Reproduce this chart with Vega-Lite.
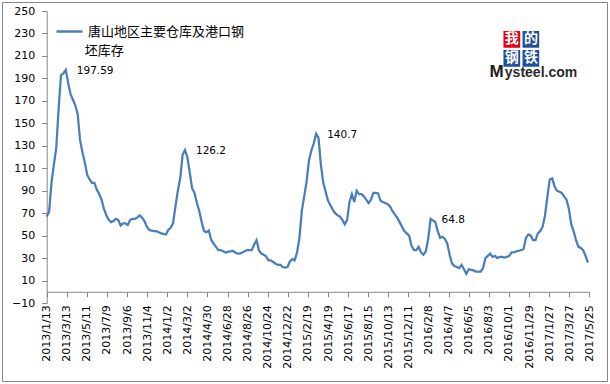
{
  "$schema": "https://vega.github.io/schema/vega-lite/v6.json",
  "width": 605,
  "height": 379,
  "autosize": "none",
  "padding": 2,
  "background": "white",
  "config": {
    "view": {"stroke": "#868686", "strokeWidth": 1},
    "axis": {"labelOverlap": false}
  },
  "layer": [
    {
      "data": {"values": [
        {"date":"2013/1/13","value":67},{"date":"2013/1/20","value":71},{"date":"2013/1/27","value":97},{"date":"2013/2/3","value":113},{"date":"2013/2/10","value":128},{"date":"2013/2/17","value":163},{"date":"2013/2/24","value":193},{"date":"2013/3/3","value":194.5},{"date":"2013/3/10","value":197.59},{"date":"2013/3/17","value":186},{"date":"2013/3/24","value":176},{"date":"2013/3/31","value":171},{"date":"2013/4/7","value":166},{"date":"2013/4/14","value":158},{"date":"2013/4/21","value":135},{"date":"2013/4/28","value":124},{"date":"2013/5/5","value":115},{"date":"2013/5/12","value":104},{"date":"2013/5/19","value":100},{"date":"2013/5/26","value":97},{"date":"2013/6/2","value":97},{"date":"2013/6/9","value":91},{"date":"2013/6/16","value":87},{"date":"2013/6/23","value":82},{"date":"2013/6/30","value":74},{"date":"2013/7/7","value":68},{"date":"2013/7/14","value":64},{"date":"2013/7/21","value":62},{"date":"2013/7/28","value":63},{"date":"2013/8/4","value":65},{"date":"2013/8/11","value":64},{"date":"2013/8/18","value":59},{"date":"2013/8/25","value":61},{"date":"2013/9/1","value":61},{"date":"2013/9/8","value":59.5},{"date":"2013/9/15","value":64},{"date":"2013/9/22","value":65},{"date":"2013/9/29","value":65},{"date":"2013/10/6","value":66},{"date":"2013/10/13","value":68},{"date":"2013/10/20","value":66},{"date":"2013/10/27","value":63},{"date":"2013/11/3","value":58},{"date":"2013/11/10","value":55},{"date":"2013/11/17","value":54.5},{"date":"2013/11/24","value":54},{"date":"2013/12/1","value":54},{"date":"2013/12/8","value":53},{"date":"2013/12/15","value":52},{"date":"2013/12/22","value":51.5},{"date":"2013/12/29","value":51},
        {"date":"2014/1/5","value":55},{"date":"2014/1/12","value":57},{"date":"2014/1/19","value":61},{"date":"2014/1/26","value":76},{"date":"2014/2/2","value":90},{"date":"2014/2/9","value":101},{"date":"2014/2/16","value":122},{"date":"2014/2/23","value":126.2},{"date":"2014/3/2","value":120},{"date":"2014/3/9","value":106},{"date":"2014/3/16","value":92},{"date":"2014/3/23","value":88},{"date":"2014/3/30","value":79},{"date":"2014/4/6","value":72},{"date":"2014/4/13","value":62},{"date":"2014/4/20","value":54},{"date":"2014/4/27","value":53},{"date":"2014/5/4","value":54.5},{"date":"2014/5/11","value":46},{"date":"2014/5/18","value":43},{"date":"2014/5/25","value":40},{"date":"2014/6/1","value":37},{"date":"2014/6/8","value":37},{"date":"2014/6/15","value":36},{"date":"2014/6/22","value":35},{"date":"2014/6/29","value":35.5},{"date":"2014/7/6","value":36},{"date":"2014/7/13","value":36.5},{"date":"2014/7/20","value":35},{"date":"2014/7/27","value":34},{"date":"2014/8/3","value":34},{"date":"2014/8/10","value":35},{"date":"2014/8/17","value":36},{"date":"2014/8/24","value":37},{"date":"2014/8/31","value":37},{"date":"2014/9/7","value":37},{"date":"2014/9/14","value":42},{"date":"2014/9/21","value":46},{"date":"2014/9/28","value":37},{"date":"2014/10/5","value":34},{"date":"2014/10/12","value":33},{"date":"2014/10/19","value":31.5},{"date":"2014/10/26","value":28},{"date":"2014/11/2","value":28},{"date":"2014/11/9","value":26.5},{"date":"2014/11/16","value":25},{"date":"2014/11/23","value":24},{"date":"2014/11/30","value":24},{"date":"2014/12/7","value":22},{"date":"2014/12/14","value":21.5},{"date":"2014/12/21","value":22},{"date":"2014/12/28","value":27},
        {"date":"2015/1/4","value":29},{"date":"2015/1/11","value":28},{"date":"2015/1/18","value":35},{"date":"2015/1/25","value":48},{"date":"2015/2/1","value":72},{"date":"2015/2/8","value":85},{"date":"2015/2/15","value":98},{"date":"2015/2/22","value":117},{"date":"2015/3/1","value":126},{"date":"2015/3/8","value":132},{"date":"2015/3/15","value":140.7},{"date":"2015/3/22","value":137},{"date":"2015/3/29","value":113},{"date":"2015/4/5","value":97},{"date":"2015/4/12","value":89},{"date":"2015/4/19","value":81},{"date":"2015/4/26","value":77},{"date":"2015/5/3","value":73},{"date":"2015/5/10","value":70},{"date":"2015/5/17","value":68},{"date":"2015/5/24","value":67},{"date":"2015/5/31","value":64},{"date":"2015/6/7","value":60},{"date":"2015/6/14","value":64},{"date":"2015/6/21","value":80},{"date":"2015/6/28","value":87},{"date":"2015/7/5","value":80},{"date":"2015/7/12","value":90},{"date":"2015/7/19","value":87},{"date":"2015/7/26","value":87},{"date":"2015/8/2","value":85},{"date":"2015/8/9","value":82},{"date":"2015/8/16","value":79},{"date":"2015/8/23","value":82},{"date":"2015/8/30","value":88},{"date":"2015/9/6","value":88},{"date":"2015/9/13","value":87.5},{"date":"2015/9/20","value":81},{"date":"2015/9/27","value":80},{"date":"2015/10/4","value":79},{"date":"2015/10/11","value":78},{"date":"2015/10/18","value":76},{"date":"2015/10/25","value":72},{"date":"2015/11/1","value":69},{"date":"2015/11/8","value":66},{"date":"2015/11/15","value":62},{"date":"2015/11/22","value":58},{"date":"2015/11/29","value":54},{"date":"2015/12/6","value":52},{"date":"2015/12/13","value":50},{"date":"2015/12/20","value":41},{"date":"2015/12/27","value":37},
        {"date":"2016/1/3","value":37},{"date":"2016/1/10","value":40},{"date":"2016/1/17","value":35},{"date":"2016/1/24","value":33},{"date":"2016/1/31","value":36},{"date":"2016/2/7","value":47},{"date":"2016/2/14","value":64.8},{"date":"2016/2/21","value":63.5},{"date":"2016/2/28","value":62},{"date":"2016/3/6","value":54},{"date":"2016/3/13","value":48},{"date":"2016/3/20","value":49},{"date":"2016/3/27","value":47},{"date":"2016/4/3","value":43},{"date":"2016/4/10","value":33},{"date":"2016/4/17","value":25},{"date":"2016/4/24","value":23},{"date":"2016/5/1","value":22},{"date":"2016/5/8","value":21},{"date":"2016/5/15","value":24},{"date":"2016/5/22","value":20},{"date":"2016/5/29","value":16},{"date":"2016/6/5","value":20},{"date":"2016/6/12","value":19.5},{"date":"2016/6/19","value":19},{"date":"2016/6/26","value":18},{"date":"2016/7/3","value":18},{"date":"2016/7/10","value":18},{"date":"2016/7/17","value":21},{"date":"2016/7/24","value":30},{"date":"2016/7/31","value":32},{"date":"2016/8/7","value":34},{"date":"2016/8/14","value":31},{"date":"2016/8/21","value":32},{"date":"2016/8/28","value":30},{"date":"2016/9/4","value":31},{"date":"2016/9/11","value":31},{"date":"2016/9/18","value":30.5},{"date":"2016/9/25","value":31},{"date":"2016/10/2","value":32},{"date":"2016/10/9","value":35},{"date":"2016/10/16","value":35},{"date":"2016/10/23","value":36},{"date":"2016/10/30","value":36.5},{"date":"2016/11/6","value":37},{"date":"2016/11/13","value":38},{"date":"2016/11/20","value":48},{"date":"2016/11/27","value":51},{"date":"2016/12/4","value":50},{"date":"2016/12/11","value":46},{"date":"2016/12/18","value":46},{"date":"2016/12/25","value":52},
        {"date":"2017/1/1","value":54},{"date":"2017/1/8","value":58},{"date":"2017/1/15","value":68},{"date":"2017/1/22","value":85},{"date":"2017/1/29","value":100},{"date":"2017/2/5","value":101},{"date":"2017/2/12","value":94},{"date":"2017/2/19","value":90},{"date":"2017/2/26","value":89},{"date":"2017/3/5","value":88},{"date":"2017/3/12","value":85},{"date":"2017/3/19","value":82},{"date":"2017/3/26","value":74},{"date":"2017/4/2","value":60},{"date":"2017/4/9","value":54},{"date":"2017/4/16","value":46},{"date":"2017/4/23","value":40},{"date":"2017/4/30","value":39},{"date":"2017/5/7","value":37},{"date":"2017/5/14","value":32},{"date":"2017/5/21","value":26}
      ]},
      "mark": {"type": "line", "strokeWidth": 2.25},
      "encoding": {
        "x": {
          "field": "date", "type": "temporal",
          "scale": {"type": "time", "domain": [{"year":2013,"month":1,"date":13},{"year":2017,"month":5,"date":25}], "range": [44.7, 587.3]},
          "axis": {
            "title": null, "grid": false, "offset": -89.2, "tickCount": 40,
            "values": [{"year":2013,"month":1,"date":13},{"year":2013,"month":3,"date":13},{"year":2013,"month":5,"date":11},{"year":2013,"month":7,"date":9},{"year":2013,"month":9,"date":6},{"year":2013,"month":11,"date":4},{"year":2014,"month":1,"date":2},{"year":2014,"month":3,"date":2},{"year":2014,"month":4,"date":30},{"year":2014,"month":6,"date":28},{"year":2014,"month":8,"date":26},{"year":2014,"month":10,"date":24},{"year":2014,"month":12,"date":22},{"year":2015,"month":2,"date":19},{"year":2015,"month":4,"date":19},{"year":2015,"month":6,"date":17},{"year":2015,"month":8,"date":15},{"year":2015,"month":10,"date":13},{"year":2015,"month":12,"date":11},{"year":2016,"month":2,"date":8},{"year":2016,"month":4,"date":7},{"year":2016,"month":6,"date":5},{"year":2016,"month":8,"date":3},{"year":2016,"month":10,"date":1},{"year":2016,"month":11,"date":29},{"year":2017,"month":1,"date":27},{"year":2017,"month":3,"date":27},{"year":2017,"month":5,"date":25}],
            "format": "%Y/%-m/%-d", "labelAngle": -90, "labelOverlap": false, "labelFlush": false, "labelBound": false,
            "tickSize": 5, "labelPadding": 8, "domainColor": "#868686", "tickColor": "#868686",
            "labelFont": "DejaVu Sans", "labelFontSize": 11, "labelColor": "#000000"
          }
        },
        "y": {
          "field": "value", "type": "quantitative",
          "scale": {"domain": [-10, 250], "range": [301, 9], "nice": false, "zero": false},
          "axis": {
            "title": null, "grid": false, "offset": -44.7, "labelOverlap": false, "labelFlush": false, "tickCount": 30,
            "values": [-10,10,30,50,70,90,110,130,150,170,190,210,230,250],
            "tickSize": 5, "labelPadding": 7, "domainColor": "#868686", "tickColor": "#868686",
            "labelFont": "DejaVu Sans", "labelFontSize": 11, "labelColor": "#000000"
          }
        },
        "color": {
          "datum": "唐山地区主要仓库及港口钢", "type": "nominal",
          "scale": {"range": ["#4a7ebb"]},
          "legend": {
            "title": null, "orient": "none", "legendX": 53, "legendY": 15, "padding": 0,
            "symbolType": "stroke", "symbolSize": 676, "symbolStrokeWidth": 2.5,
            "labelFont": "Noto Sans CJK SC", "labelFontSize": 13, "labelColor": "#000000",
            "labelOffset": 4, "labelLimit": 400
          }
        }
      }
    },
    {
      "data": {"values": [
        {"date":"2013/3/10","value":197.59,"label":"197.59"},
        {"date":"2014/2/23","value":126.2,"label":"126.2"},
        {"date":"2015/3/15","value":140.7,"label":"140.7"},
        {"date":"2016/2/14","value":64.8,"label":"64.8"}
      ]},
      "mark": {"type": "text", "align": "left", "baseline": "middle", "dx": 11, "dy": 1, "font": "DejaVu Sans", "fontSize": 10.5, "color": "#000000"},
      "encoding": {
        "x": {"field": "date", "type": "temporal"},
        "y": {"field": "value", "type": "quantitative"},
        "text": {"field": "label"}
      }
    },
    {
      "data": {"values": [{}]},
      "mark": {"type": "text", "text": "坯库存", "color": "#000000", "font": "Noto Sans CJK SC", "fontSize": 13, "align": "left", "baseline": "middle"},
      "encoding": {
        "x": {"datum": {"year":2013,"month":5,"date":5}, "type": "temporal"},
        "y": {"datum": 214, "type": "quantitative"}
      }
    },
    {
      "data": {"values": [{}]},
      "mark": {"type": "rect", "color": "#e60012"},
      "encoding": {
        "x": {"datum": {"year":2016,"month":9,"date":15}, "type": "temporal"},
        "x2": {"datum": {"year":2016,"month":11,"date":3}},
        "y": {"datum": 217.3, "type": "quantitative"},
        "y2": {"datum": 232.2}
      }
    },
    {
      "data": {"values": [{}]},
      "mark": {"type": "rect", "color": "#1f4e9a"},
      "encoding": {
        "x": {"datum": {"year":2016,"month":11,"date":10}, "type": "temporal"},
        "x2": {"datum": {"year":2016,"month":12,"date":29}},
        "y": {"datum": 217.3, "type": "quantitative"},
        "y2": {"datum": 232.2}
      }
    },
    {
      "data": {"values": [{}]},
      "mark": {"type": "rect", "color": "#1f4e9a"},
      "encoding": {
        "x": {"datum": {"year":2016,"month":9,"date":15}, "type": "temporal"},
        "x2": {"datum": {"year":2016,"month":11,"date":3}},
        "y": {"datum": 200.4, "type": "quantitative"},
        "y2": {"datum": 215.3}
      }
    },
    {
      "data": {"values": [{}]},
      "mark": {"type": "rect", "color": "#1f4e9a"},
      "encoding": {
        "x": {"datum": {"year":2016,"month":11,"date":10}, "type": "temporal"},
        "x2": {"datum": {"year":2016,"month":12,"date":29}},
        "y": {"datum": 200.4, "type": "quantitative"},
        "y2": {"datum": 215.3}
      }
    },
    {
      "data": {"values": [{}]},
      "mark": {"type": "text", "text": "我", "color": "white", "font": "Noto Sans CJK SC", "fontSize": 14, "fontWeight": "bold", "baseline": "middle"},
      "encoding": {
        "x": {"datum": {"year":2016,"month":10,"date":9}, "type": "temporal"},
        "y": {"datum": 224.8, "type": "quantitative"}
      }
    },
    {
      "data": {"values": [{}]},
      "mark": {"type": "text", "text": "的", "color": "white", "font": "Noto Sans CJK SC", "fontSize": 14, "fontWeight": "bold", "baseline": "middle"},
      "encoding": {
        "x": {"datum": {"year":2016,"month":12,"date":5}, "type": "temporal"},
        "y": {"datum": 224.8, "type": "quantitative"}
      }
    },
    {
      "data": {"values": [{}]},
      "mark": {"type": "text", "text": "钢", "color": "white", "font": "Noto Sans CJK SC", "fontSize": 14, "fontWeight": "bold", "baseline": "middle"},
      "encoding": {
        "x": {"datum": {"year":2016,"month":10,"date":9}, "type": "temporal"},
        "y": {"datum": 207.9, "type": "quantitative"}
      }
    },
    {
      "data": {"values": [{}]},
      "mark": {"type": "text", "text": "铁", "color": "white", "font": "Noto Sans CJK SC", "fontSize": 14, "fontWeight": "bold", "baseline": "middle"},
      "encoding": {
        "x": {"datum": {"year":2016,"month":12,"date":5}, "type": "temporal"},
        "y": {"datum": 207.9, "type": "quantitative"}
      }
    },
    {
      "data": {"values": [{}]},
      "mark": {"type": "text", "text": "M", "color": "#1a1a1a", "font": "Liberation Sans", "fontSize": 17, "fontWeight": "bold", "align": "left", "baseline": "alphabetic"},
      "encoding": {
        "x": {"datum": {"year":2016,"month":8,"date":5}, "type": "temporal"},
        "y": {"datum": 190.8, "type": "quantitative"}
      }
    },
    {
      "data": {"values": [{}]},
      "mark": {"type": "text", "text": "ysteel.com", "color": "#2a2a2a", "font": "Liberation Sans", "fontSize": 14, "fontWeight": "bold", "align": "left", "baseline": "alphabetic"},
      "encoding": {
        "x": {"datum": {"year":2016,"month":9,"date":19}, "type": "temporal"},
        "y": {"datum": 190.8, "type": "quantitative"}
      }
    }
  ]
}
